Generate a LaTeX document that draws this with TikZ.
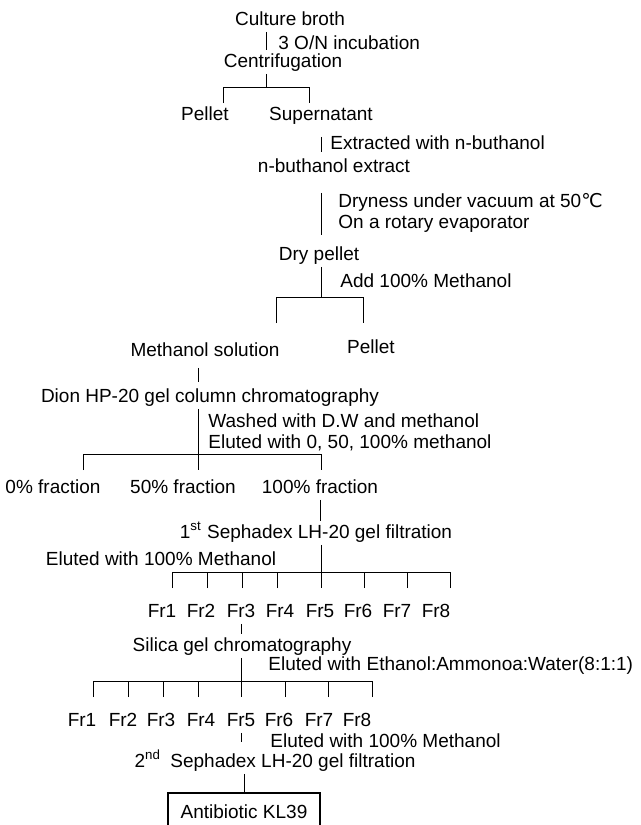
\documentclass[tikz,border=0pt]{standalone}
\usepackage{fontspec}
\setmainfont{Liberation Sans}
\newfontfamily\symfont{DejaVu Sans}

\begin{document}
\begin{tikzpicture}[
  x=0.5pt, y=-0.5pt,
  stage/.style = {inner sep=1pt, text height=7.5pt, text depth=2pt, font=\fontsize{9.5}{11}\selectfont},
  note/.style = {inner sep=1pt, align=left, font=\fontsize{9.5}{10.5}\selectfont},
  link/.style = {line width=.5pt},
  tick/.style = {link, shorten <=6pt},
  result/.style = {stage, draw, line width=.6pt, minimum width=76pt, minimum height=19.5pt}
  ]

  \useasboundingbox (0,0) rectangle (641,825);

  \node[stage] (culture) at (290,20) {Culture broth};
  \node[note, anchor=west] (incubation) at (276,43) {3 O/N incubation};
  \node[stage] (centrifugation) at (283,62) {Centrifugation};
  \node[stage] (pellet_a) at (205,115) {Pellet};
  \node[stage] (supernatant) at (321,115) {Supernatant};
  \coordinate (split_a) at (266,87);
  \coordinate (split_a_l) at (223,87);
  \coordinate (split_a_r) at (309,87);
  \draw[link] (culture.south -| split_a) -- (centrifugation.north -| split_a);
  \draw[link] (centrifugation.south -| split_a) -- (split_a);
  \draw[link] (pellet_a.north -| split_a_l) -- (split_a_l) -- (split_a_r) -- (supernatant.north -| split_a_r);

  \node[note, anchor=west] (extraction) at (328,143) {Extracted with n-buthanol};
  \node[stage] (butanol) at (334,167) {n-buthanol extract};
  \draw[link, shorten <=5pt, shorten >=1.5pt] (supernatant.south) -- (butanol.north -| supernatant);

  \node[note, anchor=west] (drying) at (336,213) {Dryness under vacuum at 50{\symfont ℃}\\On a rotary evaporator};
  \node[stage] (dry_pellet) at (319,255) {Dry pellet};
  \draw[link, shorten <=7pt, shorten >=4pt] (butanol.south -| supernatant) -- (dry_pellet.north -| supernatant);

  \node[note, anchor=west] (methanol_add) at (338,281) {Add 100\% Methanol};
  \coordinate (split_b) at (321,297);
  \coordinate (split_b_l) at (276,297);
  \coordinate (split_b_r) at (363,297);
  \coordinate (meoh_in) at (276,323);
  \coordinate (pellet_b_in) at (363,323);
  \draw[link] (dry_pellet.south -| split_b) -- (split_b);
  \draw[link] (meoh_in) -- (split_b_l) -- (split_b_r) -- (pellet_b_in);
  \node[stage] (meoh_solution) at (205,351) {Methanol solution};
  \node[stage] (pellet_b) at (371,348) {Pellet};

  \node[stage] (dion) at (210,397) {Dion HP-20 gel column chromatography};
  \coordinate (split_d) at (198,454);
  \coordinate (split_d_l) at (83,454);
  \coordinate (split_d_r) at (321,454);
  \draw[link, shorten <=2.5pt, shorten >=1.5pt] (meoh_solution.south -| split_d) -- (dion.north -| split_d);
  \node[note, anchor=west] (washing) at (206,432) {Washed with D.W and methanol\\Eluted with 0, 50, 100\% methanol};
  \node[stage] (frac_0) at (53,488) {0\% fraction};
  \node[stage] (frac_50) at (183,488) {50\% fraction};
  \node[stage] (frac_100) at (320,488) {100\% fraction};
  \draw[link, shorten >=3pt] (dion.south -| split_d) -- (frac_50.north -| split_d);
  \draw[link, shorten <=3pt, shorten >=3pt] (frac_0.north -| split_d_l) -- (split_d_l) -- (split_d_r) -- (frac_100.north -| split_d_r);

  \node[stage] (sephadex_1) at (316,533) {1\textsuperscript{st} Sephadex LH-20 gel filtration};
  \draw[link] (frac_100.south) -- (sephadex_1.north -| frac_100);
  \node[note] (elution_1) at (161,559) {Eluted with 100\% Methanol};

  \coordinate (split_e) at (321,572);
  \coordinate (split_e_l) at (172,572);
  \coordinate (split_e_r) at (450,572);
  \node[stage] (fr_a1) at (162,612) {Fr1};
  \node[stage] (fr_a2) at (201,612) {Fr2};
  \node[stage] (fr_a3) at (241,612) {Fr3};
  \node[stage] (fr_a4) at (280,612) {Fr4};
  \node[stage] (fr_a5) at (320,612) {Fr5};
  \node[stage] (fr_a6) at (358,612) {Fr6};
  \node[stage] (fr_a7) at (397,612) {Fr7};
  \node[stage] (fr_a8) at (436,612) {Fr8};
  \draw[link, shorten >=6pt] (sephadex_1.south -| split_e) -- (fr_a5.north -| split_e);
  \draw[link] (split_e_l) -- (split_e_r);
  \draw[tick] ([xshift=5pt]fr_a1.north) -- ([xshift=5pt]fr_a1.north |- split_e);
  \draw[tick] ([xshift=3pt]fr_a2.north) -- ([xshift=3pt]fr_a2.north |- split_e);
  \draw[tick] ([xshift=.5pt]fr_a3.north) -- ([xshift=.5pt]fr_a3.north |- split_e);
  \draw[tick] ([xshift=-1.5pt]fr_a4.north) -- ([xshift=-1.5pt]fr_a4.north |- split_e);
  \draw[tick] ([xshift=3pt]fr_a6.north) -- ([xshift=3pt]fr_a6.north |- split_e);
  \draw[tick] ([xshift=5pt]fr_a7.north) -- ([xshift=5pt]fr_a7.north |- split_e);
  \draw[tick] ([xshift=7pt]fr_a8.north) -- ([xshift=7pt]fr_a8.north |- split_e);

  \node[stage] (silica) at (242,646) {Silica gel chromatography};
  \draw[link] (fr_a3.south) -- (silica.north -| fr_a3);
  \node[note, anchor=west] (elution_2) at (266,666) {Eluted with Ethanol:Ammonoa:Water(8:1:1)};

  \coordinate (split_f) at (241,681);
  \coordinate (split_f_l) at (93,681);
  \coordinate (split_f_r) at (372,681);
  \node[stage] (fr_b1) at (82,721) {Fr1};
  \node[stage] (fr_b2) at (123,721) {Fr2};
  \node[stage] (fr_b3) at (161,721) {Fr3};
  \node[stage] (fr_b4) at (201,721) {Fr4};
  \node[stage] (fr_b5) at (241,721) {Fr5};
  \node[stage] (fr_b6) at (279,721) {Fr6};
  \node[stage] (fr_b7) at (319,721) {Fr7};
  \node[stage] (fr_b8) at (357,721) {Fr8};
  \draw[link, shorten >=6pt] (silica.south -| split_f) -- (fr_b5.north -| split_f);
  \draw[link] (split_f_l) -- (split_f_r);
  \draw[tick] ([xshift=5.5pt]fr_b1.north) -- ([xshift=5.5pt]fr_b1.north |- split_f);
  \draw[tick] ([xshift=2.5pt]fr_b2.north) -- ([xshift=2.5pt]fr_b2.north |- split_f);
  \draw[tick] ([xshift=1pt]fr_b3.north) -- ([xshift=1pt]fr_b3.north |- split_f);
  \draw[tick] ([xshift=-1.5pt]fr_b4.north) -- ([xshift=-1.5pt]fr_b4.north |- split_f);
  \draw[tick] ([xshift=3pt]fr_b6.north) -- ([xshift=3pt]fr_b6.north |- split_f);
  \draw[tick] ([xshift=4.5pt]fr_b7.north) -- ([xshift=4.5pt]fr_b7.north |- split_f);
  \draw[tick] ([xshift=7.5pt]fr_b8.north) -- ([xshift=7.5pt]fr_b8.north |- split_f);

  \node[note, anchor=west] (elution_3) at (268,741) {Eluted with 100\% Methanol};
  \node[stage] (sephadex_2) at (275,762) {2\textsuperscript{nd}\enspace Sephadex LH-20 gel filtration};
  \draw[link, shorten >=4pt] (fr_b5.south) -- (sephadex_2.north -| fr_b5);

  \node[result] (antibiotic) at (244,812.5) {Antibiotic KL39};
  \draw[link] (sephadex_2.south -| antibiotic) -- (antibiotic.north);

\end{tikzpicture}
\end{document}
